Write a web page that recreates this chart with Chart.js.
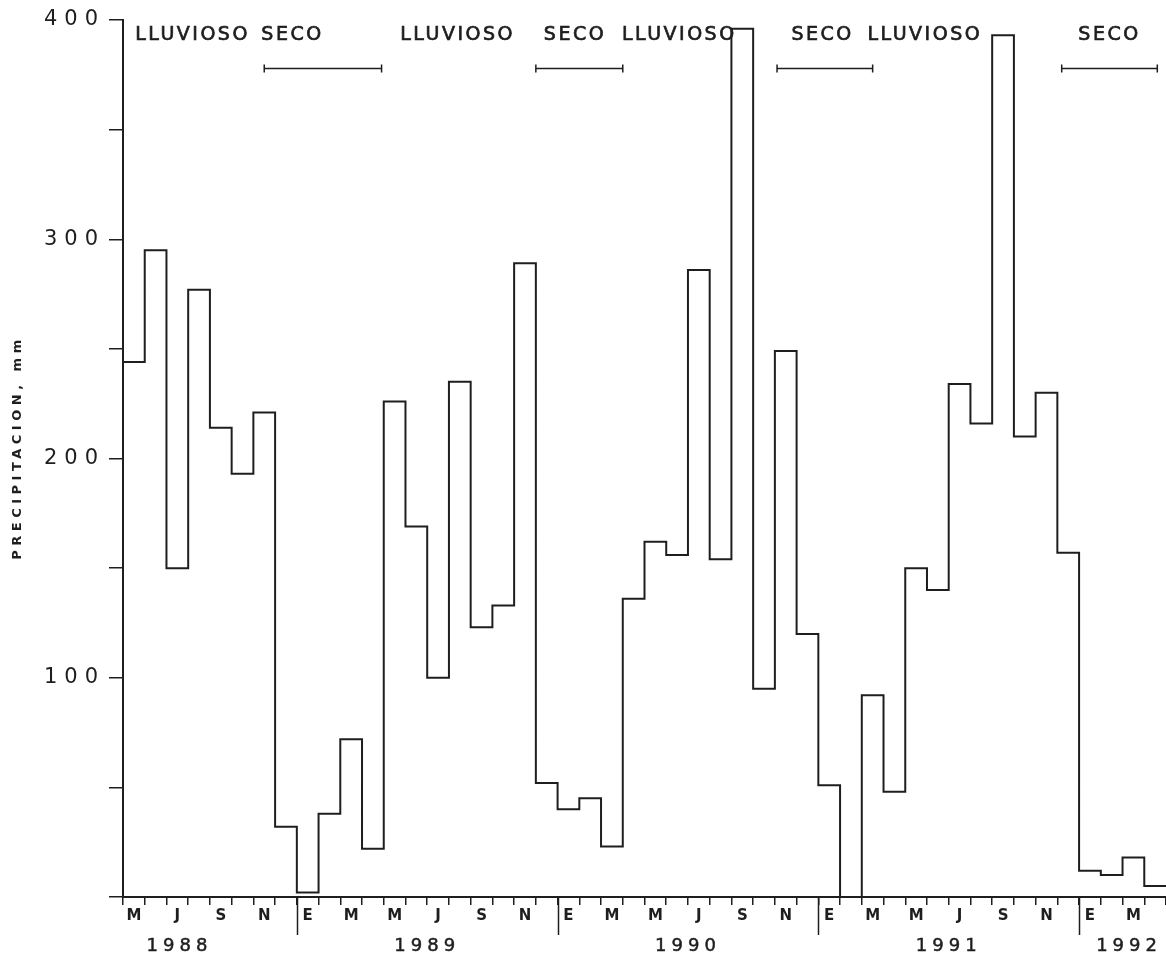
<!DOCTYPE html>
<html>
<head>
<meta charset="utf-8">
<title>Precipitación mensual 1988-1992</title>
<script src="https://cdn.jsdelivr.net/npm/chart.js@4.4.0/dist/chart.umd.min.js"></script>
<style>
  html, body { margin: 0; padding: 0; background: #fff; }
  #wrap { width: 1166px; height: 960px; }
</style>
</head>
<body>
<div id="wrap"><canvas id="chart" width="1166" height="960"></canvas></div>
<script>
// monthly rainfall (mm), May 1988 .. Apr 1992
const monthInitials = ['E', 'F', 'M', 'A', 'M', 'J', 'J', 'A', 'S', 'O', 'N', 'D'];
const firstMonth = 4; // May
const precip = [
    244, 295, 150, 277, 214, 193, 221, 32,       // 1988 May-Dec
    2, 38, 72, 22, 226, 169, 100, 235, 123, 133, 289, 52,   // 1989
    40, 45, 23, 136, 162, 156, 286, 154, 396, 95, 249, 120, // 1990
    51, 0, 92, 48, 150, 140, 234, 216, 393, 210, 230, 157,  // 1991
    12, 10, 18, 5                                // 1992 Jan-Apr
];
const yTickValues = [0, 50, 100, 150, 200, 250, 300, 350, 400];

// labels under the axis, in month units from May 1988
const yearLabels = ['1988', '1989', '1990', '1991', '1992'];
const yearLabelAt = [2.6, 14, 26, 38, 46.3];

// season notes along the top
const seasonLabels = ['LLUVIOSO', 'SECO', 'LLUVIOSO', 'SECO', 'LLUVIOSO', 'SECO', 'LLUVIOSO', 'SECO'];
const seasonLabelAt = [3.2, 7.8, 15.4, 20.8, 25.6, 32.2, 36.9, 45.4];
const dryStart = [6.5, 19.0, 30.1, 43.2];
const dryEnd = [11.9, 23.0, 34.5, 47.6];

const ink = '#1e1e1e';

// step outline: each month is a flat segment from i to i+1
const stepPoints = precip.map((v, i) => ({ x: i, y: v }));
stepPoints.push({ x: precip.length, y: precip[precip.length - 1] });

function inkText(ctx, text, x, y) {
    ctx.fillText(text, x, y);
    ctx.strokeText(text, x, y);
}

const paperText = {
    id: 'paperText',
    beforeDraw(chart) {
        chart.ctx.letterSpacing = '7px';
    },
    afterDraw(chart) {
        const { ctx, scales: { x, y } } = chart;
        ctx.save();
        ctx.fillStyle = ink;
        ctx.strokeStyle = ink;
        ctx.textAlign = 'center';
        ctx.textBaseline = 'middle';

        // month initials, every second month
        ctx.letterSpacing = '0px';
        ctx.font = 'bold 15px "DejaVu Sans"';
        for (let i = 0; i < precip.length; i++) {
            const m = (firstMonth + i) % 12;
            if (m % 2 === 0) {
                ctx.fillText(monthInitials[m], x.getPixelForValue(i + 0.5), x.top + 19);
            }
        }

        // year separators
        ctx.lineWidth = 1.5;
        for (let i = 1; i < precip.length; i++) {
            if ((firstMonth + i) % 12 === 0) {
                const px = Math.round(x.getPixelForValue(i)) + 0.5;
                ctx.beginPath();
                ctx.moveTo(px, x.top);
                ctx.lineTo(px, x.top + 38);
                ctx.stroke();
            }
        }

        // years
        ctx.lineWidth = 0.5;
        ctx.font = '18px "DejaVu Sans"';
        ctx.letterSpacing = '5px';
        yearLabels.forEach((t, k) => {
            inkText(ctx, t, x.getPixelForValue(yearLabelAt[k]), x.top + 49);
        });

        // season names
        ctx.font = '19px "DejaVu Sans"';
        ctx.letterSpacing = '2.5px';
        ctx.lineWidth = 0.7;
        seasonLabels.forEach((t, k) => {
            inkText(ctx, t, x.getPixelForValue(seasonLabelAt[k]), y.getPixelForValue(393));
        });

        // dry season bars with end caps
        const by = Math.round(y.getPixelForValue(378)) + 0.5;
        ctx.lineWidth = 1.5;
        dryStart.forEach((s, k) => {
            const x1 = x.getPixelForValue(s);
            const x2 = x.getPixelForValue(dryEnd[k]);
            ctx.beginPath();
            ctx.moveTo(x1, by);
            ctx.lineTo(x2, by);
            ctx.moveTo(x1, by - 4);
            ctx.lineTo(x1, by + 4);
            ctx.moveTo(x2, by - 4);
            ctx.lineTo(x2, by + 4);
            ctx.stroke();
        });

        // axis title
        ctx.translate(18, y.getPixelForValue(205));
        ctx.rotate(-Math.PI / 2);
        ctx.font = 'bold 13px "DejaVu Sans"';
        ctx.letterSpacing = '4.5px';
        ctx.fillText('PRECIPITACION, mm', 0, 0);

        ctx.restore();
        ctx.letterSpacing = '0px';
    }
};

const ctx = document.getElementById('chart').getContext('2d');
new Chart(ctx, {
    type: 'line',
    data: {
        datasets: [{
            data: stepPoints,
            stepped: true,
            borderColor: ink,
            borderWidth: 2,
            pointRadius: 0,
            fill: false
        }]
    },
    options: {
        responsive: false,
        animation: false,
        layout: { padding: { top: 20, right: 0, bottom: 0, left: 0 } },
        plugins: {
            legend: { display: false },
            tooltip: { enabled: false }
        },
        scales: {
            x: {
                type: 'linear',
                min: 0,
                max: precip.length,
                afterBuildTicks: (scale) => {
                    scale.ticks = stepPoints.map(p => ({ value: p.x }));
                },
                afterFit: (scale) => { scale.height = 63; },
                ticks: { display: false },
                grid: {
                    drawOnChartArea: false,
                    drawTicks: true,
                    tickLength: 8,
                    color: ink,
                    lineWidth: 1.5
                },
                border: { display: true, color: ink, width: 2 }
            },
            y: {
                min: 0,
                max: 400,
                afterBuildTicks: (scale) => {
                    scale.ticks = yTickValues.map(v => ({ value: v }));
                },
                afterFit: (scale) => { scale.width = 123; },
                ticks: {
                    callback: (value) => (value > 0 && value % 100 === 0) ? value : '',
                    font: { family: 'DejaVu Sans', size: 21 },
                    color: ink,
                    padding: 4
                },
                grid: {
                    drawOnChartArea: false,
                    tickLength: 14,
                    color: ink,
                    lineWidth: 1.5
                },
                border: { display: true, color: ink, width: 2 }
            }
        }
    },
    plugins: [paperText]
});
</script>
</body>
</html>
